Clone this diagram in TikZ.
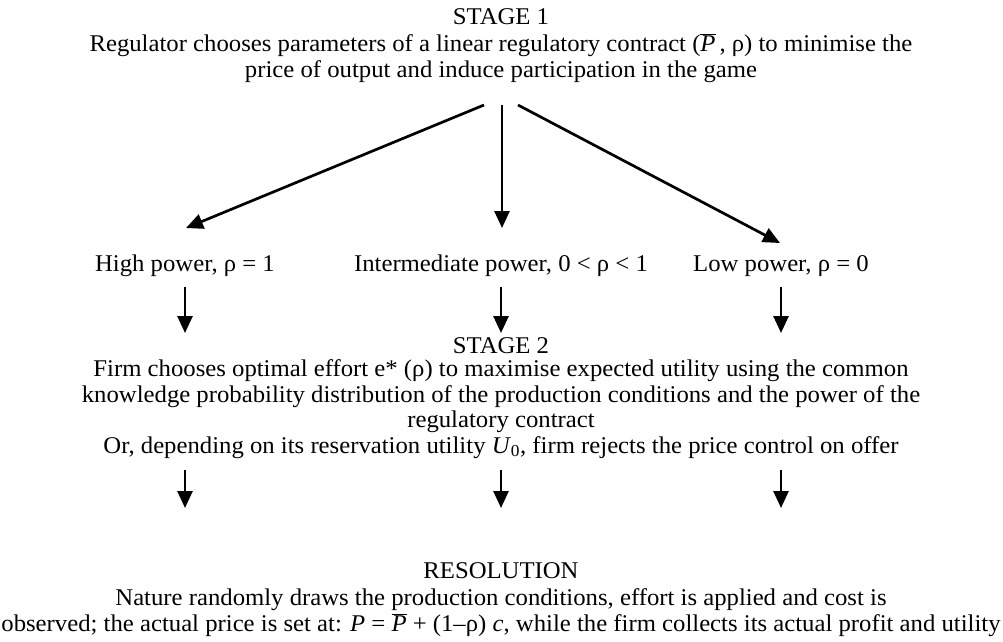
\documentclass[tikz,border=0pt]{standalone}
\usepackage{fontspec}
\setmainfont[FakeStretch=1.03]{Liberation Serif}
\usetikzlibrary{arrows.meta}
\newcommand{\Pbar}{$\overline{\mbox{\textit{P}}}$}
\tikzset{
  txt/.style={inner sep=0pt, align=center, font=\fontsize{24}{25.5}\selectfont, anchor=base},
  arr/.style={line width=2.7pt, -{Triangle[length=17pt,width=15pt]}}
}
\begin{document}
\begin{tikzpicture}[x=1pt,y=-1pt]
\useasboundingbox (0,0) rectangle (1003,641);
% Stage 1
\node[txt] (s1) at (501,24) {STAGE 1};
\node[txt] (s1b) at (501,77) {Regulator chooses parameters of a linear regulatory contract (\Pbar\,, ρ) to minimise the\\ price of output and induce participation in the game};
\coordinate (o1) at (484,105);
\coordinate (o2) at (502,105);
\coordinate (o3) at (518,105);
\coordinate (e1) at (186,228);
\coordinate (e2) at (502,228);
\coordinate (e3) at (780,243);
\draw[arr] (o1) -- (e1);
\draw[arr] (o2) -- (e2);
\draw[arr] (o3) -- (e3);
% power labels
\node[txt] (hp) at (185,271) {High power, ρ = 1};
\node[txt] (ip) at (501,271) {Intermediate power, 0 < ρ < 1};
\node[txt] (lp) at (781,271) {Low power, ρ = 0};
% Stage 2
\node[txt] (s2) at (501,353) {STAGE 2};
\node[txt] (s2b) at (501,453) {Firm chooses optimal effort e* (ρ) to maximise expected utility using the common\\ knowledge probability distribution of the production conditions and the power of the\\ regulatory contract\\ Or, depending on its reservation utility \textit{U}\textsubscript{0}, firm rejects the price control on offer};
\coordinate (a1) at (185,333);
\coordinate (a2) at (501,333);
\coordinate (a3) at (781,333);
\draw[arr] (hp.south |- 0,287) -- (a1);
\draw[arr] (ip.south |- 0,287) -- (a2);
\draw[arr] (lp.south |- 0,287) -- (a3);
% Resolution
\node[txt] (rs) at (501,578) {RESOLUTION};
\node[txt] (rsb) at (501,631) {Nature randomly draws the production conditions, effort is applied and cost is\\ observed; the actual price is set at: \textit{P} = \Pbar{} + (1–ρ) \textit{c}, while the firm collects its actual profit and utility};
\coordinate (b1) at (185,508);
\coordinate (b2) at (501,508);
\coordinate (b3) at (781,508);
\draw[arr] (s2b.south -| a1) ++(0,12) -- (b1);
\draw[arr] (s2b.south -| a2) ++(0,12) -- (b2);
\draw[arr] (s2b.south -| a3) ++(0,12) -- (b3);
\end{tikzpicture}
\end{document}
